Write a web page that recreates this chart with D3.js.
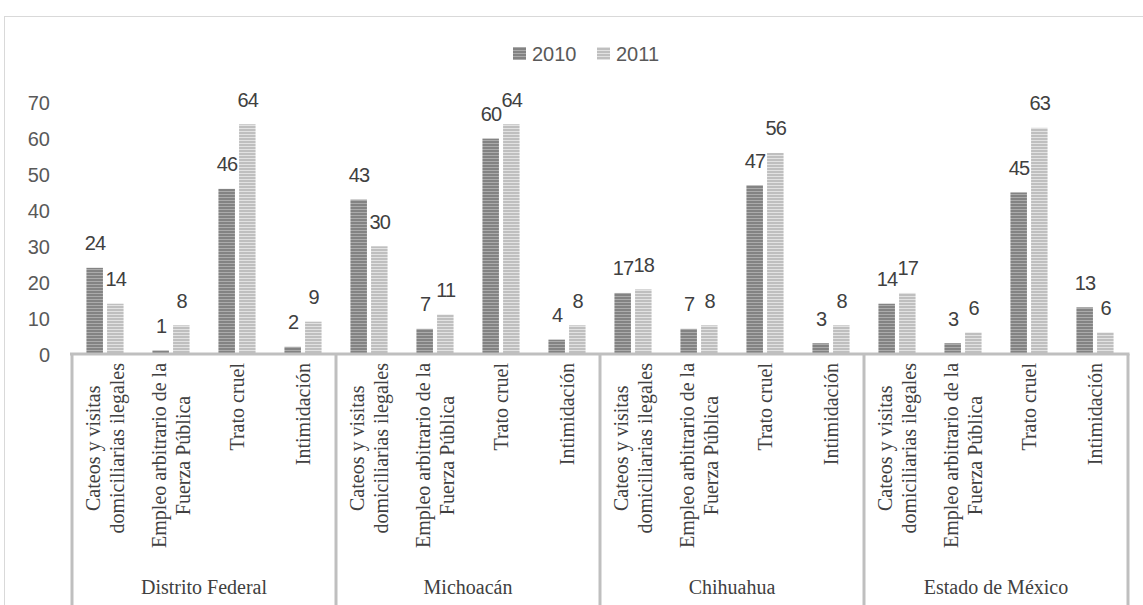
<!DOCTYPE html>
<html>
<head>
<meta charset="utf-8">
<script src="https://cdn.jsdelivr.net/npm/d3@7"></script>
<style>
  html, body { margin: 0; padding: 0; background: #fff; }
  svg { display: block; }
</style>
</head>
<body>
<svg id="chart" width="1143" height="605"></svg>
<script>
// States (outer axis level) and complaint types (inner level)
const states = ["Distrito Federal", "Michoacán", "Chihuahua", "Estado de México"];
const complaints = [
  ["Cateos y visitas", "domiciliarias ilegales"],
  ["Empleo arbitrario de la", "Fuerza Pública"],
  ["Trato cruel"],
  ["Intimidación"]
];
const seriesNames = ["2010", "2011"];
// Values per state, in complaint order
const values2010 = [24, 1, 46, 2, 43, 7, 60, 4, 17, 7, 47, 3, 14, 3, 45, 13];
const values2011 = [14, 8, 64, 9, 30, 11, 64, 8, 18, 8, 56, 8, 17, 6, 63, 6];
const yTicks = [0, 10, 20, 30, 40, 50, 60, 70];

const svg = d3.select("#chart");
const W = 1143, H = 605;
const plotLeft = 72, plotRight = 1128, plotBase = 354, plotTop = 102.7;

// Patterns: narrow horizontal stripes
const defs = svg.append("defs");
function stripes(id, bg, line) {
  const p = defs.append("pattern").attr("id", id)
    .attr("patternUnits", "userSpaceOnUse").attr("width", 6).attr("height", 3);
  p.append("rect").attr("width", 6).attr("height", 3).attr("fill", bg);
  p.append("rect").attr("y", 2).attr("width", 6).attr("height", 1).attr("fill", line);
}
stripes("p2010", "#838383", "#ababab");
stripes("p2011", "#bfbfbf", "#e2e2e2");
const fills = ["url(#p2010)", "url(#p2011)"];

// Outer chart frame
svg.append("rect").attr("x", 4.5).attr("y", 16.5)
  .attr("width", W + 10).attr("height", H + 10)
  .attr("fill", "none").attr("stroke", "#d9d9d9").attr("stroke-width", 1);

// Flat list of categories: state index + complaint index
const cats = [];
states.forEach((s, si) => complaints.forEach((c, ci) => cats.push({ si, ci, key: si + "-" + ci })));

const x = d3.scaleBand().domain(cats.map(d => d.key)).range([plotLeft, plotRight]).padding(0);
const xs = d3.scaleBand().domain(seriesNames).range([0, x.bandwidth()]).paddingInner(0.2).paddingOuter(0.7);
const y = d3.scaleLinear().domain([0, 70]).range([plotBase, plotTop]);

// Y axis tick labels (no axis line)
const yAxis = d3.axisLeft(y).tickValues(yTicks).tickSize(0).tickPadding(0);
const gy = svg.append("g").attr("transform", "translate(50,0)").call(yAxis);
gy.select(".domain").remove();
gy.selectAll("text")
  .attr("font-family", "'Liberation Sans', Arial, sans-serif")
  .attr("font-size", 20).attr("fill", "#595959").attr("dy", "0.35em");

// Bars with value labels above
const series = [values2010, values2011];
const barG = svg.append("g");
series.forEach((vals, k) => {
  barG.selectAll(".b" + k).data(cats).join("rect")
    .attr("x", d => x(d.key) + xs(seriesNames[k]))
    .attr("width", xs.bandwidth())
    .attr("y", (d, i) => y(vals[i]))
    .attr("height", (d, i) => plotBase - y(vals[i]))
    .attr("fill", fills[k]);
  barG.selectAll(".l" + k).data(cats).join("text")
    .attr("x", d => x(d.key) + xs(seriesNames[k]) + xs.bandwidth() / 2 + 0.4)
    .attr("y", (d, i) => y(vals[i]) - 17.5)
    .attr("text-anchor", "middle")
    .attr("font-family", "'Liberation Sans', Arial, sans-serif")
    .attr("font-size", 20).attr("letter-spacing", -0.8).attr("fill", "#404040")
    .text((d, i) => vals[i]);
});

// Category axis line and group dividers
svg.append("line").attr("x1", 70).attr("x2", plotRight + 1.5).attr("y1", plotBase).attr("y2", plotBase)
  .attr("stroke", "#bfbfbf").attr("stroke-width", 3);
const groupEdges = d3.range(states.length + 1).map(i => plotLeft + i * x.bandwidth() * complaints.length);
svg.selectAll(".div").data(groupEdges).join("line")
  .attr("x1", d => d).attr("x2", d => d).attr("y1", plotBase).attr("y2", H)
  .attr("stroke", "#bfbfbf").attr("stroke-width", 3);

// Rotated complaint labels, block aligned to the axis, lines centred on each other
const serif = "'Liberation Serif', 'Times New Roman', serif";
cats.forEach(d => {
  const lines = complaints[d.ci];
  const g = svg.append("g");
  const t = g.append("text")
    .attr("font-family", serif).attr("font-size", 20).attr("fill", "#404040")
    .attr("text-anchor", "middle");
  const spans = lines.map((ln, i) => t.append("tspan")
    .attr("x", 0).attr("y", (i - (lines.length - 1) / 2) * 24).attr("dy", "0.35em").text(ln));
  const maxLen = d3.max(spans, s => s.node().getComputedTextLength());
  g.attr("transform", `translate(${x(d.key) + x.bandwidth() / 2},${363 + maxLen / 2}) rotate(-90)`);
});

// State labels
svg.selectAll(".state").data(states).join("text")
  .attr("x", (d, i) => (groupEdges[i] + groupEdges[i + 1]) / 2)
  .attr("y", 594)
  .attr("text-anchor", "middle")
  .attr("font-family", serif).attr("font-size", 20).attr("fill", "#404040")
  .text(d => d);

// Legend
const legend = svg.append("g");
const legX = [513, 597];
seriesNames.forEach((s, k) => {
  legend.append("rect").attr("x", legX[k]).attr("y", 47).attr("width", 13).attr("height", 13)
    .attr("fill", fills[k]);
  legend.append("text").attr("x", legX[k] + 19).attr("y", 53.5).attr("dy", "0.35em")
    .attr("font-family", "'Liberation Sans', Arial, sans-serif")
    .attr("font-size", 20).attr("fill", "#595959").text(s);
});
</script>
</body>
</html>
